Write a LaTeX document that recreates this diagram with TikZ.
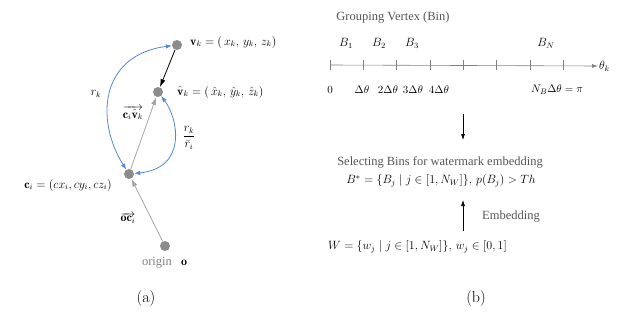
\documentclass[tikz,border=0pt]{standalone}
\usepackage{fontspec}
\newfontfamily\tnr{Liberation Serif}
\usepackage{tikz}
\usetikzlibrary{arrows.meta}

\definecolor{dotgray}{RGB}{140,140,140}
\definecolor{linegray}{RGB}{165,165,165}
\definecolor{arcblue}{RGB}{85,135,210}
\definecolor{txtgray}{RGB}{85,85,85}

\begin{document}
\begin{tikzpicture}[
  x=1pt,y=-1pt,
  pt/.style={circle,fill=dotgray,inner sep=0pt,minimum size=10pt},
  lbl/.style={font=\fontsize{12}{14}\selectfont,inner sep=1pt},
  tick/.style={font=\fontsize{11}{13}\selectfont,inner sep=1pt},
  txt/.style={font=\tnr\fontsize{12.5}{14}\selectfont,text=txtgray,inner sep=1pt},
  capt/.style={font=\fontsize{16}{18}\selectfont},
  blk/.style={black,line width=0.8pt,-{Latex[length=8pt,width=5pt]}},
  gry/.style={linegray,line width=0.8pt,-{Latex[length=8pt,width=5pt]}},
  bluearc/.style={arcblue,line width=0.8pt,{Latex[length=6pt,width=4.5pt]}-{Latex[length=6pt,width=4.5pt]}},
  axisline/.style={gray,line width=0.6pt},
  flow/.style={black,line width=0.6pt,-{Latex[length=6pt,width=4pt]}}
]
  \useasboundingbox (0,0) rectangle (625,327);

  % (a) points in 3D
  \node[pt] (v) at (177,45) {};
  \node[pt] (vh) at (158,92) {};
  \node[pt] (c) at (129,174) {};
  \node[pt] (o) at (165,246) {};

  \node[lbl,anchor=west] (vlab) at (189,42) {$\mathbf{v}_k=(\,x_k,\,y_k,\,z_k)$};
  \node[lbl,anchor=west] (vhlab) at (176,92) {$\hat{\mathbf{v}}_k=(\,\hat{x}_k,\,\hat{y}_k,\,\hat{z}_k)$};
  \node[lbl,anchor=east] (clab) at (113,185) {$\mathbf{c}_i=(cx_i,cy_i,cz_i)$};
  \node[lbl] (rk) at (96,94) {$r_k$};
  \node[lbl] (cv) at (133,113) {$\overrightarrow{\mathbf{c}_i\hat{\mathbf{v}}_k}$};
  \node[lbl] (rr) at (189,138) {$\displaystyle\frac{r_k}{\bar{r}_i}$};
  \node[lbl] (oc) at (128,218) {$\overrightarrow{\mathbf{oc}_i}$};
  \node[txt,text=gray] (orig) at (157,263) {origin};
  \node[lbl] (olab) at (184,263) {$\mathbf{o}$};

  \draw[blk] (v) -- (vh);
  \draw[gry] (c) -- (vh);
  \draw[gry] (o) -- (c);
  \draw[bluearc] (c) .. controls (95,120) and (100,55) .. (v);
  \draw[bluearc] (vh) .. controls (178,118) and (188,168) .. (c);

  % (b) bins on theta axis
  \node[txt] (title) at (393,18) {Grouping Vertex (Bin)};
  \node[lbl] (b1) at (346,43) {$B_1$};
  \node[lbl] (b2) at (379,43) {$B_2$};
  \node[lbl] (b3) at (412,43) {$B_3$};
  \node[lbl] (bn) at (546,43) {$B_N$};

  \coordinate (ax0) at (330,65);
  \node[lbl,anchor=west] (theta) at (598,66) {$\theta_k$};
  \draw[axisline,-{Latex[length=6pt,width=4pt]}] (ax0) -- (theta.west);
  \foreach \i in {0,...,7}
    \draw[axisline] ({330+33.33*\i},60) -- ({330+33.33*\i},70);

  \node[tick] (t0) at (330,90) {$0$};
  \node[tick] (t1) at (362,90) {$\Delta\theta$};
  \node[tick] (t2) at (388,90) {$2\Delta\theta$};
  \node[tick] (t3) at (413,90) {$3\Delta\theta$};
  \node[tick] (t4) at (439,90) {$4\Delta\theta$};
  \node[tick,anchor=west] (tn) at (530,90) {$N_B\Delta\theta=\pi$};

  \coordinate (d0) at (463,114);
  \coordinate (d1) at (463,140);
  \draw[flow] (d0) -- (d1);

  \node[txt] (sel) at (440,162) {Selecting Bins for watermark embedding};
  \node[lbl] (bstar) at (441,181) {$B^{*}=\{B_j\mid j\in[1,N_W]\},\,p(B_j)>Th$};

  \coordinate (e0) at (463,231);
  \coordinate (e1) at (463,200);
  \draw[flow] (e0) -- (e1);
  \node[txt,anchor=west] (emb) at (481,217) {Embedding};

  \node[lbl,anchor=west] (wset) at (327,247) {$W=\{w_j\mid j\in[1,N_W]\},\,w_j\in[0,1]$};

  \node[capt] (capa) at (146,299) {(a)};
  \node[capt] (capb) at (476,299) {(b)};
\end{tikzpicture}
\end{document}
